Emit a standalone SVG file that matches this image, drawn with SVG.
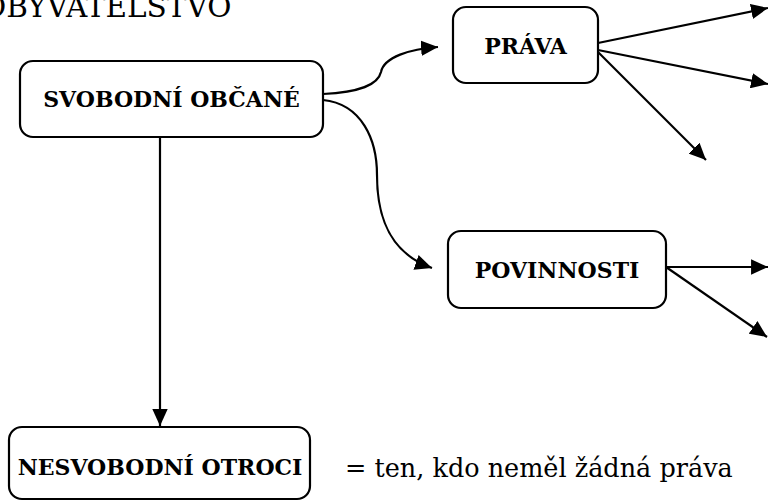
<svg xmlns="http://www.w3.org/2000/svg" width="768" height="501" viewBox="0 0 768 501">
<style>
.box{fill:#fff;stroke:#000;stroke-width:2.2}
.lbl{font-family:"DejaVu Serif","Liberation Serif",serif;font-weight:bold;font-size:22px;text-anchor:middle;fill:#000}
.txt{font-family:"DejaVu Serif","Liberation Serif",serif;font-size:25.5px;fill:#000}
.con{fill:none;stroke:#000;stroke-width:2.2}
</style>
<defs>
<marker id="ah" viewBox="0 0 11 10" refX="11" refY="5" markerWidth="7.7" markerHeight="7" markerUnits="strokeWidth" orient="auto">
<path d="M0,0 L11,5 L0,10 z" fill="#000"/>
</marker>
</defs>
<text id="title" class="txt" x="-18" y="17" style="font-size:29.5px">OBYVATELSTVO</text>
<g id="connectors">
<path class="con" d="M323,94 C360,92 378,85 381,72 C384,57 410,49 438,47" marker-end="url(#ah)"/>
<path class="con" d="M323,100 C362,104 377,140 377,175 C377,225 395,255 432,268" marker-end="url(#ah)"/>
<path class="con" d="M160,137 L160,426" marker-end="url(#ah)"/>
<path class="con" d="M598,43 L768,8" marker-end="url(#ah)"/>
<path class="con" d="M598,50 L768,84" marker-end="url(#ah)"/>
<path class="con" d="M598,52 L706,160" marker-end="url(#ah)"/>
<path class="con" d="M666,267 L768,267" marker-end="url(#ah)"/>
<path class="con" d="M666,267 L767,337" marker-end="url(#ah)"/>
</g>
<g id="svobodni">
<rect class="box" x="20" y="61" width="303" height="76" rx="13"/>
<text class="lbl" x="171.5" y="107">SVOBODNÍ OBČANÉ</text>
</g>
<g id="prava">
<rect class="box" x="453" y="7" width="145" height="76" rx="13"/>
<text class="lbl" x="525.5" y="54">PRÁVA</text>
</g>
<g id="povinnosti">
<rect class="box" x="448" y="231" width="218" height="77" rx="13"/>
<text class="lbl" x="557" y="278">POVINNOSTI</text>
</g>
<g id="nesvobodni">
<rect class="box" x="9" y="427" width="301" height="72" rx="13"/>
<text class="lbl" x="160" y="475">NESVOBODNÍ OTROCI</text>
</g>
<text id="note" class="txt" x="345" y="477">= ten, kdo neměl žádná práva</text>
</svg>
